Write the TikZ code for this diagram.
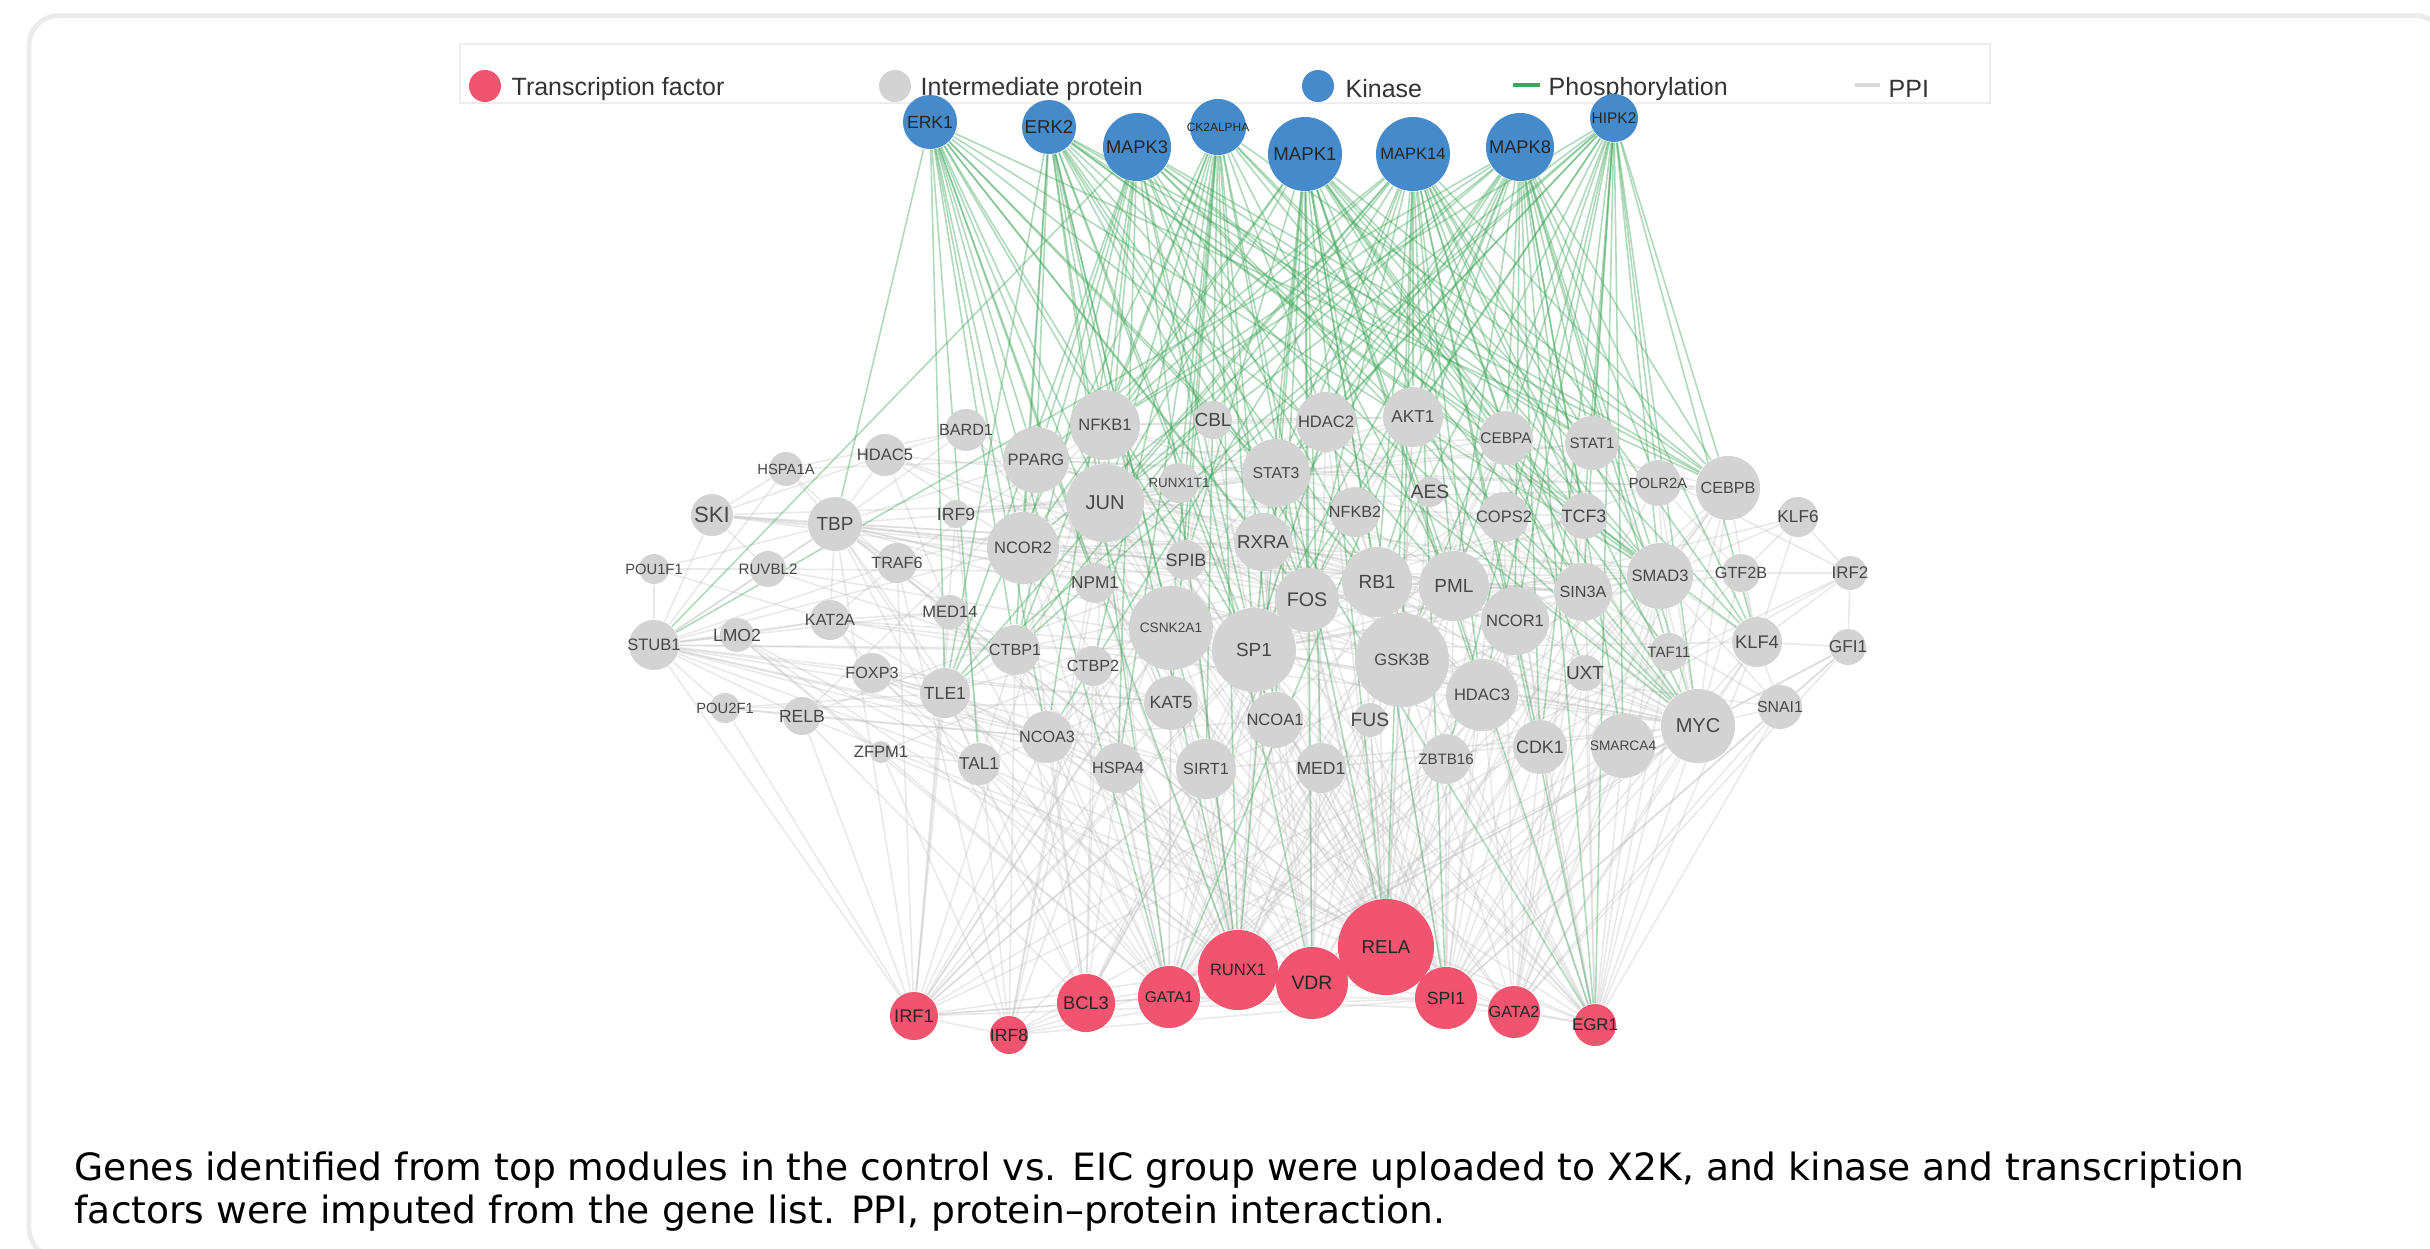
\documentclass[tikz,border=0pt]{standalone}
\usepackage{fontspec}
\setmainfont{Liberation Sans}
\newfontfamily\captionfont{DejaVu Sans}
\usetikzlibrary{backgrounds}
\definecolor{tfred}{HTML}{F0546F}
\definecolor{protgray}{HTML}{D3D3D3}
\definecolor{kinblue}{HTML}{458BCB}
\definecolor{phosgreen}{HTML}{3FA55A}
\definecolor{ppigray}{HTML}{D9D9D9}
\definecolor{framegray}{HTML}{EBEBEB}
\tikzstyle{vertex}=[circle,draw=none,inner sep=0pt]
\tikzstyle{kinvertex}=[vertex,fill=kinblue]
\tikzstyle{protvertex}=[vertex,fill=protgray]
\tikzstyle{tfvertex}=[vertex,fill=tfred]
\tikzstyle{phosedge}=[draw,phosgreen,line width=0.45pt,opacity=0.42]
\tikzstyle{ppiedge}=[draw,black!25,line width=0.45pt,opacity=0.35]
\tikzstyle{legendtext}=[anchor=west,font=\fontsize{7.1}{8}\selectfont,text=black!80,inner sep=0pt]
\tikzstyle{captiontext}=[anchor=base west,font=\captionfont\fontsize{10.7}{12}\selectfont,inner sep=0pt]

\begin{document}
\begin{tikzpicture}[x=0.01cm,y=-0.01cm]
    \useasboundingbox (0,0) rectangle (2430,1248);
    % Panel frame and legend
    \draw[framegray, line width=1.4pt, rounded corners=8.5pt] (29,15.5) rectangle (2445,1258);
    \draw[black!7, line width=0.4pt] (460,44) rectangle (1990,103);
    \node[tfvertex, minimum size=0.32cm] (lgtf) at (485,86) {};
    \node[legendtext] (lgtftext) at (511,89) {Transcription factor};
    \node[protvertex, minimum size=0.32cm] (lgprot) at (895,86) {};
    \node[legendtext] (lgprottext) at (920,89) {Intermediate protein};
    \node[kinvertex, minimum size=0.32cm] (lgkin) at (1318,86) {};
    \node[legendtext] (lgkintext) at (1345,89) {Kinase};
    \coordinate (lgphosA) at (1513,85);
    \coordinate (lgphosB) at (1540,85);
    \draw[phosgreen, line width=1.4pt] (lgphosA) -- (lgphosB);
    \node[legendtext] (lgphostext) at (1548,89) {Phosphorylation};
    \coordinate (lgppiA) at (1855,85);
    \coordinate (lgppiB) at (1880,85);
    \draw[ppigray, line width=1.4pt] (lgppiA) -- (lgppiB);
    \node[legendtext] (lgppitext) at (1888,89) {PPI};

    % First we draw the vertices: kinases on top
    \foreach \x/\y/\r/\fs/\name in {930/122/27/5/ERK1, 1049/127/27/5.3/ERK2, 1137/147/34/5.2/MAPK3,
        1218/127/28/3.4/CK2ALPHA, 1305/154/37/5.3/MAPK1, 1413/154/37/4.7/MAPK14,
        1520/147/34/5.2/MAPK8, 1614/118/24/4.4/HIPK2}
        \node[kinvertex, minimum size=\r*0.02cm,
              label={[font=\fontsize{\fs}{\fs}\selectfont, text=black!85]center:\name}] (\name) at (\x,\y) {};

    % intermediate proteins
    \foreach \x/\y/\r/\fs/\name in {966/430/21/4.6/BARD1, 885/455/21/4.7/HDAC5, 786/469/17/4.2/HSPA1A,
        712/515/21/6.3/SKI, 835/524/27/5.4/TBP, 956/514/14/5/IRF9, 1036/460/33/4.7/PPARG,
        1105/425/35/4.7/NFKB1, 1213/420/19/5.4/CBL, 1105/503/39/5.7/JUN, 1179/483/20/3.8/RUNX1T1,
        1276/473/34/4.5/STAT3, 1326/422/30/4.7/HDAC2, 1413/417/30/4.9/AKT1, 1506/438/27/4.4/CEBPA,
        1592/443/27/4.3/STAT1, 1658/483/23/4.2/POLR2A, 1728/488/32/4.6/CEBPB, 1798/517/20/4.9/KLF6,
        1355/512/25/4.6/NFKB2, 1430/492/15/5.5/AES, 1504/517/25/4.7/COPS2, 1584/516/23/5.1/TCF3,
        1023/548/36/4.7/NCOR2, 1186/560/20/5.1/SPIB, 1263/542/29/5.3/RXRA, 654/569/15/4.2/POU1F1,
        768/569/18/4.3/RUVBL2, 897/563/20/4.6/TRAF6, 1095/583/20/4.9/NPM1, 1307/600/32/5.6/FOS,
        1377/582/35/5.4/RB1, 1454/586/35/5.4/PML, 1583/592/29/4.6/SIN3A, 1660/576/33/4.7/SMAD3,
        1741/573/19/4.6/GTF2B, 1850/573/17/4.8/IRF2, 950/612/17/4.7/MED14, 830/620/20/4.6/KAT2A,
        737/635/17/5/LMO2, 654/645/25/4.7/STUB1, 1171/628/42/3.9/CSNK2A1, 1254/650/42/5.4/SP1,
        1515/621/34/4.7/NCOR1, 1757/642/25/5.2/KLF4, 1848/647/18/4.9/GFI1, 1669/652/19/4.3/TAF11,
        1015/650/25/4.6/CTBP1, 1093/666/20/4.6/CTBP2, 1402/660/47/4.7/GSK3B, 1585/673/18/5.4/UXT,
        872/673/20/4.6/FOXP3, 945/693/25/5/TLE1, 1171/703/27/5/KAT5, 1482/695/36/4.7/HDAC3,
        1780/707/22/4.5/SNAI1, 725/708/15/4.2/POU2F1, 802/716/19/5/RELB, 1275/720/28/4.7/NCOA1,
        1370/720/17/5.5/FUS, 1698/726/37/5.7/MYC, 1047/737/26/4.6/NCOA3, 1540/747/27/5.1/CDK1,
        1623/746/32/3.9/SMARCA4, 881/752/11/4.7/ZFPM1, 1446/759/25/4.3/ZBTB16, 979/764/21/4.9/TAL1,
        1118/768/25/4.6/HSPA4, 1206/769/30/4.6/SIRT1, 1321/768/25/5/MED1}
        \node[protvertex, minimum size=\r*0.02cm,
              label={[font=\fontsize{\fs}{\fs}\selectfont, text=black!72]center:\name}] (\name) at (\x,\y) {};

    % transcription factors at the bottom
    \foreach \x/\y/\r/\fs/\name in {914/1016/24/5.2/IRF1, 1009/1035/19/5/IRF8, 1086/1003/29/5.2/BCL3,
        1169/997/31/4.4/GATA1, 1238/970/40/4.7/RUNX1, 1312/983/36/5.5/VDR, 1386/947/48/5.3/RELA,
        1446/998/31/5/SPI1, 1514/1012/26/4.6/GATA2, 1595/1025/21/4.8/EGR1}
        \node[tfvertex, minimum size=\r*0.02cm,
              label={[font=\fontsize{\fs}{\fs}\selectfont, text=black!85]center:\name}] (\name) at (\x,\y) {};

    % Connect vertices with edges, behind the vertices
    \begin{pgfonlayer}{background}
    \foreach \source/\targets in {
        STUB1/{SKI,TBP,RUVBL2,LMO2,KAT2A,POU1F1,FOXP3,TLE1,CTBP1,NCOR2,MED14,HSPA4,SIRT1,TRAF6,NCOA3,IRF1,SP1,HSPA1A,RELB,POU2F1,KAT5,TAL1},
        SKI/{TBP,HDAC5,NCOR2,JUN,SMAD3,SIN3A,HSPA1A,NCOR1,RUVBL2},
        TBP/{HSPA1A,HDAC5,POU1F1,RUVBL2,JUN,SP1,NCOR2,TRAF6,MED14,KAT2A,NPM1,RB1,CTBP1,TLE1,GTF2B,MYC,RELA,GATA1,IRF1,BCL3,BARD1,PPARG},
        HDAC5/{NCOR2,RUNX1T1,MED14,HDAC3,BARD1,MYC},
        HSPA1A/{PPARG,HSPA4,BARD1}, POU1F1/{KAT2A,RUVBL2},
        POU2F1/{RELB,NCOA3,IRF1,TLE1,KAT5},
        RELB/{NFKB1,NFKB2,RELA,BCL3,IRF1,NCOA3},
        LMO2/{TAL1,GATA1,KAT2A,ZFPM1,RUNX1},
        ZFPM1/{GATA1,TAL1,GATA2,CTBP2,IRF8},
        FOXP3/{RUNX1,RELA,KAT5,TLE1,KAT2A,NCOA3},
        RUVBL2/{MYC,KAT5,SMAD3},
        KAT2A/{MYC,SP1,CTBP1,RELA,TRAF6,MED14,GATA1},
        TRAF6/{AKT1,NFKB1,IRF1,IRF8}, IRF9/{STAT1,STAT3,IRF8,IRF1},
        BARD1/{CSNK2A1,RB1,NPM1},
        TAL1/{GATA1,RUNX1,TLE1,CTBP1,NCOA3,EGR1},
        TLE1/{RUNX1,TCF3,CTBP1,HSPA4,IRF1,BCL3},
        NCOA3/{SP1,RELA,VDR,GATA1,IRF1,BCL3,NCOA1,STAT3},
        HSPA4/{RUNX1,GATA1,BCL3},
        SIRT1/{RELA,RUNX1,MYC,SMAD3,FOXP3,NCOA1,BCL3,IRF1,GATA1},
        JUN/{FOS,SP1,NCOR2,NFKB1,SMAD3,STAT3,RB1,PML,CEBPB,MYC,NPM1,CTBP1,RELA,GATA1,RUNX1,SPI1,EGR1,CEBPA,HDAC3,TCF3,IRF8},
        NCOR2/{HDAC3,NCOR1,RXRA,PPARG,SIN3A,SPIB,SP1,VDR,RUNX1,BCL3,GATA1},
        PPARG/{RXRA,NCOA1,STAT3,CEBPA,CEBPB,NCOR1,SIRT1,VDR},
        NFKB1/{RELA,NFKB2,BCL3,STAT3,HDAC2,AKT1,IRF1,SPI1,EGR1},
        CBL/{STAT3,AKT1,SPIB,SP1}, RUNX1T1/{HDAC3,NCOR1,RUNX1,SIN3A,HDAC2},
        CSNK2A1/{SP1,FOS,RELA,JUN,NCOA3,GATA1,SPI1,RUNX1,IRF1,VDR,EGR1},
        SP1/{RELA,VDR,GATA1,MYC,SMAD3,NCOA1,SIRT1,RB1,KLF4,HDAC3,SIN3A,EGR1,SPI1,GATA2,KLF6,GTF2B,HDAC2,STAT1,IRF1,BCL3,CDK1},
        STAT3/{STAT1,RELA,NCOA1,SMAD3,CEBPB,MYC,RUNX1,SPI1,IRF1,HDAC3},
        HDAC2/{SIN3A,RB1,NCOR1,RELA,MYC,GATA2,GATA1,VDR},
        AKT1/{GSK3B,CDK1,SIRT1,RELA,MYC,STAT3,SMAD3},
        RXRA/{VDR,NCOA1,NCOR1,PML,SPI1,RUNX1},
        FOS/{SMAD3,RELA,SPI1,VDR,BCL3,IRF1},
        RB1/{PML,HDAC3,SIN3A,CDK1,MYC,EGR1,RELA,SPI1,GATA1},
        PML/{SIN3A,HDAC3,RELA,SMAD3,MYC,SPI1,VDR,RUNX1},
        CEBPA/{CEBPB,SPI1,RUNX1,GATA1,CDK1,MYC},
        STAT1/{IRF1,IRF8,RELA,SMAD3,IRF2},
        POLR2A/{SP1,MYC,GTF2B,TAF11,RELA},
        CEBPB/{SPI1,RELA,GATA1,MYC,SMAD3,KLF4,EGR1,VDR},
        KLF6/{KLF4,GTF2B,SMAD3,IRF2}, IRF2/{GTF2B,KLF4,IRF1,IRF8,GFI1},
        GTF2B/{TAF11,MYC,KLF4},
        GFI1/{SNAI1,KLF4,MYC,RUNX1,SPI1,GATA2},
        SNAI1/{MYC,GATA2,EGR1,SMAD3,SIN3A,GSK3B,SPI1,KLF4},
        KLF4/{MYC,SMAD3,GATA2,EGR1,SPI1},
        MYC/{EGR1,GATA2,SPI1,RELA,SMARCA4,MED1,SMAD3,SIN3A,HDAC3,GATA1,RUNX1,VDR},
        SMARCA4/{EGR1,GATA2,RELA,SPI1,RB1,SMAD3,GATA1},
        SMAD3/{RUNX1,VDR,SPI1,SIN3A,TCF3,GATA2,EGR1},
        TCF3/{SPI1,EGR1,GATA2,CTBP1}, SIN3A/{NCOR1,HDAC3,GATA2},
        NCOR1/{HDAC3,VDR,SPI1,GATA1,EGR1}, HDAC3/{RELA,SPI1,GATA2,GATA1,VDR,EGR1},
        GSK3B/{RELA,SPI1,MYC,CEBPA,GATA1,EGR1}, CDK1/{GATA2,EGR1,SPI1},
        UXT/{RELA,GATA2,EGR1}, TAF11/{EGR1,GATA2},
        ZBTB16/{RELA,SPI1,GATA1,RUNX1,EGR1},
        MED1/{VDR,RELA,GATA1,GATA2,RUNX1,SPI1,IRF1},
        FUS/{RELA,RUNX1,SPI1,VDR}, NCOA1/{VDR,RELA,GATA1,SPI1,RUNX1},
        KAT5/{RUNX1,RELA,GATA1,IRF1}, CTBP1/{RUNX1,GATA1,IRF8,BCL3,EGR1},
        CTBP2/{RUNX1,GATA1,IRF8,BCL3}, MED14/{VDR,IRF1,GATA1,RELA},
        NPM1/{RELA,SPI1,RUNX1,IRF8}, SPIB/{SPI1,IRF8,IRF1,RUNX1},
        NFKB2/{RELA,BCL3}, COPS2/{RELA,EGR1,GATA2}, AES/{RELA,RUNX1},
        IRF1/{IRF8,BCL3,SPI1,GATA1,RELA}, IRF8/{BCL3,SPI1,VDR,RUNX1},
        BCL3/{GATA1,RELA}, GATA1/{RUNX1,SPI1,GATA2}, RUNX1/{SPI1,VDR},
        VDR/{RELA}, RELA/{SPI1,GATA2,EGR1}, SPI1/{GATA2,EGR1}, GATA2/{EGR1}}
        \foreach \dest in \targets
            \path[ppiedge] (\source) -- (\dest);

    \foreach \source/\targets in {
        ERK1/{TBP,NCOR2,PPARG,JUN,TLE1,CTBP1,NPM1,SPIB,SP1,FOS,STAT3,RXRA,RB1,SMAD3,MYC,CEBPB,KAT5,NCOA3,TAL1,RUNX1,GATA1},
        ERK2/{NCOR2,PPARG,NFKB1,JUN,TLE1,CTBP1,CSNK2A1,SP1,FOS,STAT3,STAT1,RB1,PML,SMAD3,MYC,CEBPB,CEBPA,NCOA1,SIRT1,KLF4,RUNX1,GATA1,EGR1},
        MAPK3/{STUB1,NFKB1,JUN,PPARG,NCOR2,CTBP1,TLE1,SP1,FOS,STAT3,STAT1,RB1,SMAD3,MYC,CEBPB,CEBPA,HDAC2,SIN3A,NCOA3,HSPA4,RUNX1,VDR},
        CK2ALPHA/{TLE1,CTBP1,CTBP2,JUN,NFKB1,SP1,CSNK2A1,RUNX1T1,HDAC2,FOS,PML,SMAD3,MYC,SIRT1,KAT5,NCOA1,CEBPB,SPIB,TCF3,HSPA4,RELA,RUNX1},
        MAPK1/{NCOR2,JUN,NFKB1,SPIB,SP1,FOS,STAT3,STAT1,RB1,PML,GSK3B,SMAD3,MYC,CEBPB,CEBPA,SIN3A,NCOR1,HDAC3,NCOA1,KLF4,MED1,TAF11,RUNX1,VDR,RELA,SPI1,EGR1},
        MAPK14/{JUN,NFKB1,CTBP1,PPARG,STAT3,STAT1,RXRA,FOS,SP1,GSK3B,RB1,PML,CEBPB,CEBPA,SMAD3,MYC,KLF4,TCF3,SIN3A,HDAC3,CDK1,AKT1,NCOA3,TLE1,UXT,RELA,SPI1,EGR1},
        MAPK8/{STUB1,JUN,NFKB1,NCOR2,STAT3,STAT1,RXRA,SP1,FOS,RB1,PML,AKT1,CEBPA,CEBPB,SMAD3,MYC,KLF4,SIN3A,TCF3,NCOR1,CDK1,TAF11,SMARCA4,HDAC2,POLR2A,GATA1,EGR1},
        HIPK2/{TLE1,CTBP1,JUN,NFKB1,HDAC2,STAT3,SP1,RB1,PML,CEBPB,SMAD3,MYC,KLF4,POLR2A,STAT1,TCF3,SIN3A,NCOR1,CDK1,SMARCA4,HDAC3,GSK3B,AKT1,ZBTB16,EGR1}}
        \foreach \dest in \targets
            \path[phosedge] (\source) -- (\dest);
    \end{pgfonlayer}

    % Caption below the network
    \node[captiontext] (capA) at (74,1180) {Genes identified from top modules in the control vs. EIC group were uploaded to X2K, and kinase and transcription};
    \node[captiontext] (capB) at (74,1223) {factors were imputed from the gene list. PPI, protein\textendash protein interaction.};
\end{tikzpicture}
\end{document}
